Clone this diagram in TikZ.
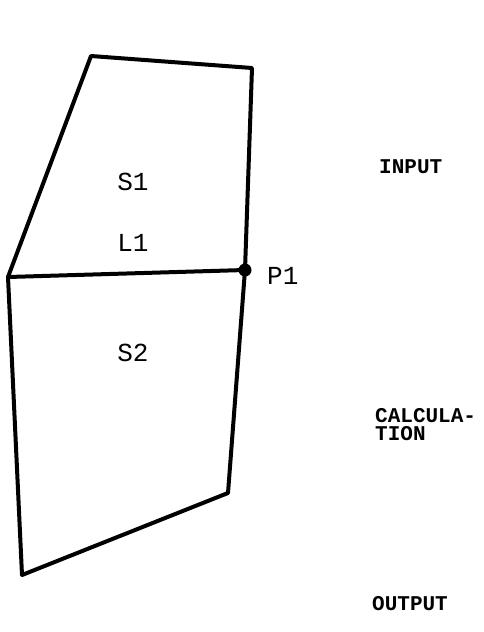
\documentclass[tikz,border=0pt]{standalone}
\usepackage{fontspec}
\setmonofont{Liberation Mono}
\usepackage{tikz}
\usetikzlibrary{positioning}

\begin{document}
\begin{tikzpicture}[x=1pt,y=-1pt,
  edge/.style={line width=4pt,black,line join=round,line cap=round},
  joint/.style={circle,fill=black,inner sep=0pt,minimum size=13pt},
  tag/.style={font=\ttfamily\fontsize{26}{26}\selectfont,inner sep=0pt},
  phase/.style={font=\ttfamily\bfseries\fontsize{21}{18.5}\selectfont,inner sep=0pt,align=left}
]
\useasboundingbox (0,0) rectangle (484,632);
%--- corners of the two regions ---
\coordinate (tl) at (91,56);
\coordinate (tr) at (252,68);
\coordinate (lj) at (8,277);
\coordinate (bl) at (22,575);
\coordinate (br) at (228,493);
\node[joint] (p1) at (245,270) {};
%--- region S1 ---
\draw[edge] (lj) -- (tl) -- (tr) -- (p1.center);
%--- line L1 and region S2 ---
\draw[edge] (lj) -- (p1.center) -- (br) -- (bl) -- (lj);
%--- labels ---
\node[tag] (s1) at (133,182) {S1};
\node[tag] (l1) at (133,243) {L1};
\node[tag,anchor=west] (p1lab) at (267,276) {P1};
\node[tag] (s2) at (133,353) {S2};
%--- phases ---
\node[phase,anchor=base west] (input) at (379,173) {INPUT};
\node[phase,anchor=north west] (calc) at (375,408) {CALCULA-\\TION};
\node[phase,anchor=base west] (output) at (372,610) {OUTPUT};
\end{tikzpicture}
\end{document}
